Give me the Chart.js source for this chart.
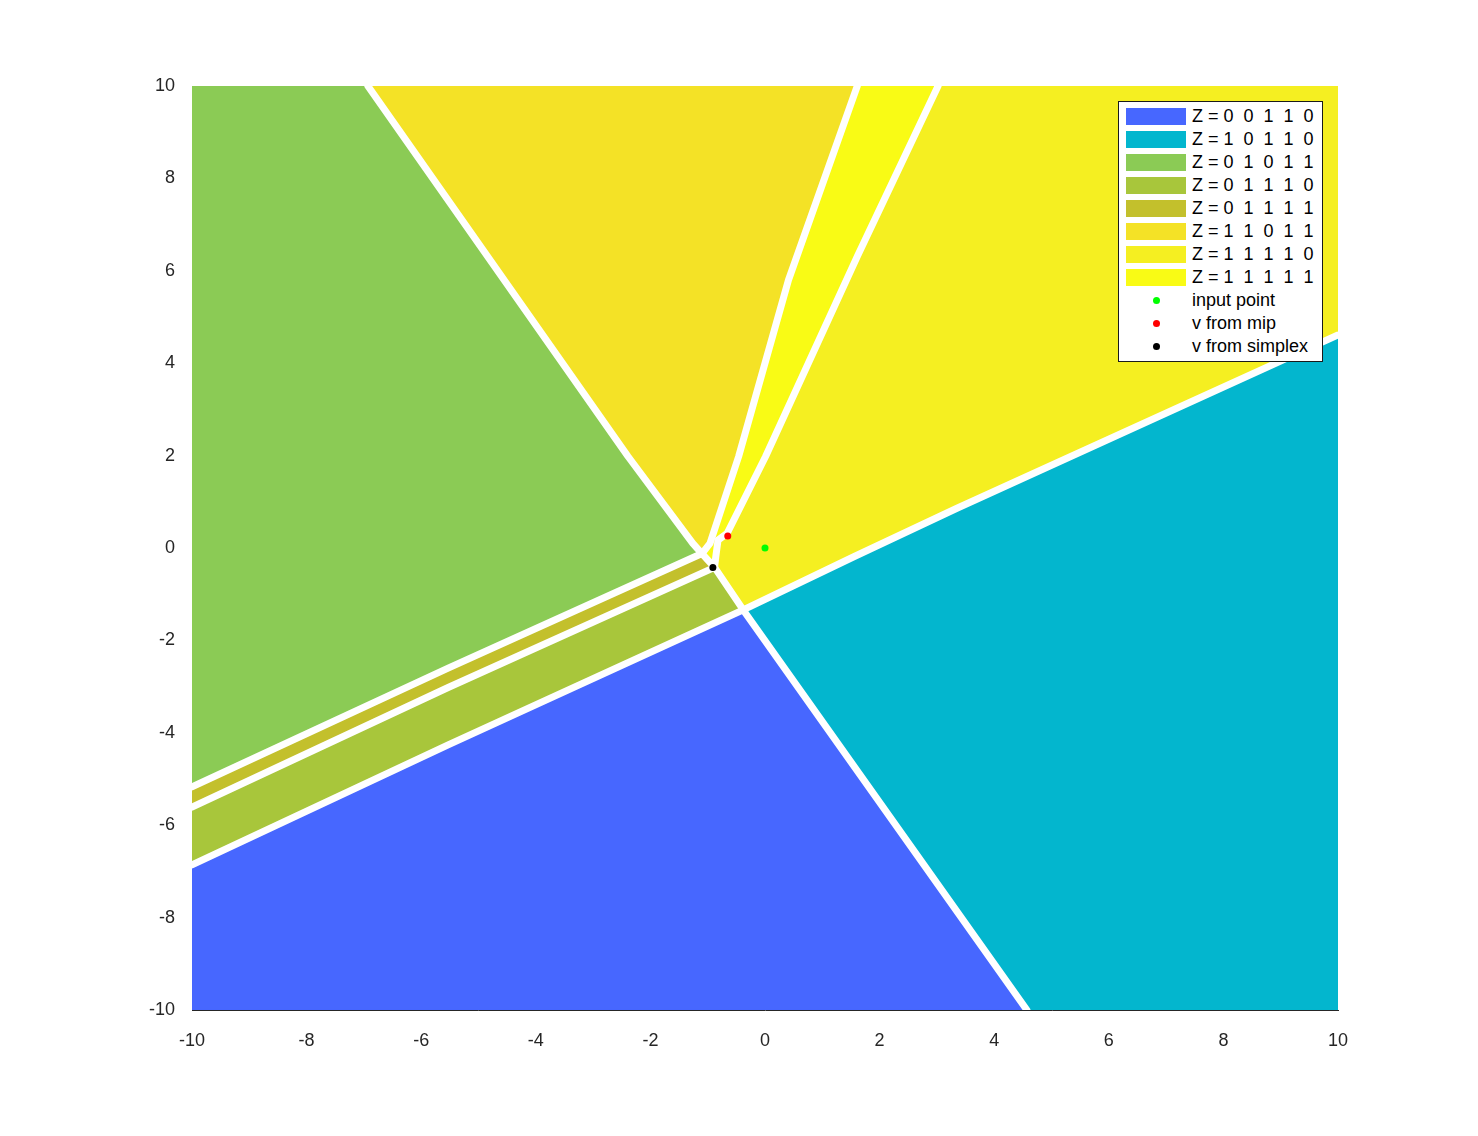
<!DOCTYPE html>
<html>
<head>
<meta charset="utf-8">
<script src="https://cdn.jsdelivr.net/npm/chart.js@4.4.1/dist/chart.umd.min.js"></script>
<style>
  html, body { margin: 0; padding: 0; background: #fff; }
  #wrap { position: relative; width: 1478px; height: 1136px; }
  #c { position: absolute; left: 0; top: 0; }
  #legend {
    position: absolute; left: 1118px; top: 101px; width: 205px; height: 261px;
    box-sizing: border-box; border: 1px solid #1a1a1a; background: #fff;
    padding-top: 3px; font-family: "Liberation Sans", Arial, sans-serif; font-size: 18px; color: #000;
  }
  .row { display: flex; align-items: center; height: 23px; }
  .sw { margin-left: 7px; width: 60px; height: 17px; flex: none; }
  .dotbox { margin-left: 7px; width: 60px; height: 17px; flex: none; position: relative; }
  .dot { position: absolute; left: 27px; top: 5px; width: 7px; height: 7px; border-radius: 50%; }
  .txt { margin-left: 6px; white-space: pre; line-height: 23px; }
</style>
</head>
<body>
<div id="wrap">
  <canvas id="c" width="1478" height="1136"></canvas>
  <div id="legend"></div>
</div>
<script>
// ---- data (x, y in plot units) ----
const regionLabels = [
  'Z = 0  0  1  1  0',
  'Z = 1  0  1  1  0',
  'Z = 0  1  0  1  1',
  'Z = 0  1  1  1  0',
  'Z = 0  1  1  1  1',
  'Z = 1  1  0  1  1',
  'Z = 1  1  1  1  0',
  'Z = 1  1  1  1  1'
];
const regionColors = ['#4767FF', '#03B6CE', '#8BCB55', '#A8C63B', '#C3C02C', '#F4E226', '#F5EF21', '#F9FB15'];

// region outlines
const region00110 = [[-10,-10],[4.57,-10],[-0.38,-1.34],[-5.53,-4.26],[-10,-6.86],[-10,-10]];
const region10110 = [[4.57,-10],[10,-10],[10,4.61],[3.35,0.86],[1.55,-0.19],[-0.38,-1.34],[4.57,-10]];
const region01011 = [[-10,10],[-6.93,10],[-2.39,1.98],[-1.26,0.10],[-1.10,-0.12],[-5.53,-2.60],[-10,-5.17],[-10,10]];
const region01110 = [[-10,-5.61],[-5.53,-3.02],[-0.88,-0.42],[-0.38,-1.34],[-5.53,-4.26],[-10,-6.86],[-10,-5.61]];
const region01111 = [[-10,-5.17],[-5.53,-2.60],[-1.10,-0.12],[-0.88,-0.42],[-5.53,-3.02],[-10,-5.61],[-10,-5.17]];
const region11011 = [[-6.93,10],[1.61,10],[0.41,5.80],[-0.46,1.98],[-0.96,0.10],[-1.10,-0.12],[-1.26,0.10],[-2.39,1.98],[-6.93,10]];
const region11110 = [[3.02,10],[10,10],[10,4.61],[3.35,0.86],[1.55,-0.19],[-0.38,-1.34],[-0.88,-0.42],[-0.86,-0.20],[-0.82,0.17],[-0.66,0.32],[0.01,1.98],[1.61,6.31],[3.02,10]];
const region11111 = [[1.61,10],[3.02,10],[1.61,6.31],[0.01,1.98],[-0.66,0.32],[-0.82,0.17],[-0.86,-0.20],[-0.88,-0.42],[-1.10,-0.12],[-0.96,0.10],[-0.46,1.98],[0.41,5.80],[1.61,10]];
const regions = [region00110, region10110, region01011, region01110, region01111, region11011, region11110, region11111];

// boundaries between regions (unassigned cells, drawn white)
const boundaryA = [[-6.93,10],[-2.39,1.98],[-1.26,0.10],[-1.10,-0.12]];
const boundaryB = [[1.61,10],[0.41,5.80],[-0.46,1.98],[-0.96,0.10],[-1.10,-0.12]];
const boundaryC = [[3.02,10],[1.61,6.31],[0.01,1.98],[-0.66,0.32],[-0.82,0.17],[-0.86,-0.20],[-0.88,-0.42]];
const boundaryD = [[10,4.61],[3.35,0.86],[1.55,-0.19],[-0.38,-1.34]];
const boundaryE = [[-10,-5.17],[-5.53,-2.60],[-1.10,-0.12],[-0.88,-0.42]];
const boundaryF = [[-10,-5.61],[-5.53,-3.02],[-0.88,-0.42],[-0.38,-1.34]];
const boundaryG = [[-10,-6.86],[-5.53,-4.26],[-0.38,-1.34],[4.57,-10]];
const boundaries = [boundaryA, boundaryB, boundaryC, boundaryD, boundaryE, boundaryF, boundaryG];

const pointLabels = ['input point', 'v from mip', 'v from simplex'];
const pointColors = ['#00FF00', '#FF0000', '#000000'];
const inputPoint = [0, 0];
const mipPoint = [-0.65, 0.26];
const simplexPoint = [-0.91, -0.42];
const markedPoints = [inputPoint, mipPoint, simplexPoint];

const xTicks = [-10, -8, -6, -4, -2, 0, 2, 4, 6, 8, 10];
const yTicks = [-10, -8, -6, -4, -2, 0, 2, 4, 6, 8, 10];

// ---- chart ----
const toXY = arr => arr.map(p => ({x: p[0], y: p[1]}));

const datasets = [];
markedPoints.forEach((p, i) => {
  datasets.push({
    kind: 'point',
    label: pointLabels[i],
    data: toXY([p]),
    showLine: false,
    pointRadius: 3.5,
    pointBorderWidth: 0,
    pointBackgroundColor: pointColors[i],
    pointBorderColor: pointColors[i],
    backgroundColor: pointColors[i],
    order: 0
  });
});
boundaries.forEach((b, i) => {
  datasets.push({
    kind: 'boundary',
    label: 'boundary ' + i,
    data: toXY(b),
    showLine: true,
    fill: false,
    borderColor: '#ffffff',
    borderWidth: 7,
    borderJoinStyle: 'round',
    borderCapStyle: 'round',
    pointRadius: 0,
    tension: 0,
    clip: 0,
    order: 1
  });
});
regions.forEach((r, i) => {
  datasets.push({
    kind: 'region',
    label: regionLabels[i],
    data: toXY(r),
    showLine: true,
    fill: 'shape',
    backgroundColor: regionColors[i],
    borderColor: regionColors[i],
    borderWidth: 1,
    pointRadius: 0,
    tension: 0,
    clip: 0,
    order: 2
  });
});

const tickFont = {family: '"Liberation Sans", Arial, sans-serif', size: 18};

const chart = new Chart(document.getElementById('c'), {
  type: 'scatter',
  data: {datasets},
  options: {
    responsive: false,
    devicePixelRatio: 1,
    animation: false,
    events: [],
    layout: {padding: {left: 0, top: 86, right: 140, bottom: 0}},
    plugins: {legend: {display: false}, tooltip: {enabled: false}},
    scales: {
      x: {
        type: 'linear', min: -10, max: 10,
        afterBuildTicks: s => { s.ticks = xTicks.map(v => ({value: v})); },
        afterFit: s => { s.height = 126; },
        grid: {display: false},
        border: {display: true, color: '#262626', width: 1},
        ticks: {color: '#262626', font: tickFont, padding: 12, maxRotation: 0, autoSkip: false}
      },
      y: {
        type: 'linear', min: -10, max: 10,
        afterBuildTicks: s => { s.ticks = yTicks.map(v => ({value: v})); },
        afterFit: s => { s.width = 192; },
        grid: {display: false},
        border: {display: false},
        ticks: {color: '#262626', font: tickFont, padding: 9, autoSkip: false}
      }
    }
  }
});

// ---- legend built from the chart's datasets ----
const leg = document.getElementById('legend');
const regionSets = chart.data.datasets.filter(d => d.kind === 'region');
const pointSets = chart.data.datasets.filter(d => d.kind === 'point');
regionSets.forEach(d => {
  const row = document.createElement('div'); row.className = 'row';
  const sw = document.createElement('div'); sw.className = 'sw'; sw.style.background = d.backgroundColor;
  const t = document.createElement('span'); t.className = 'txt'; t.textContent = d.label;
  row.appendChild(sw); row.appendChild(t); leg.appendChild(row);
});
pointSets.forEach(d => {
  const row = document.createElement('div'); row.className = 'row';
  const box = document.createElement('div'); box.className = 'dotbox';
  const dot = document.createElement('div'); dot.className = 'dot'; dot.style.background = d.pointBackgroundColor;
  box.appendChild(dot);
  const t = document.createElement('span'); t.className = 'txt'; t.textContent = d.label;
  row.appendChild(box); row.appendChild(t); leg.appendChild(row);
});
</script>
</body>
</html>
